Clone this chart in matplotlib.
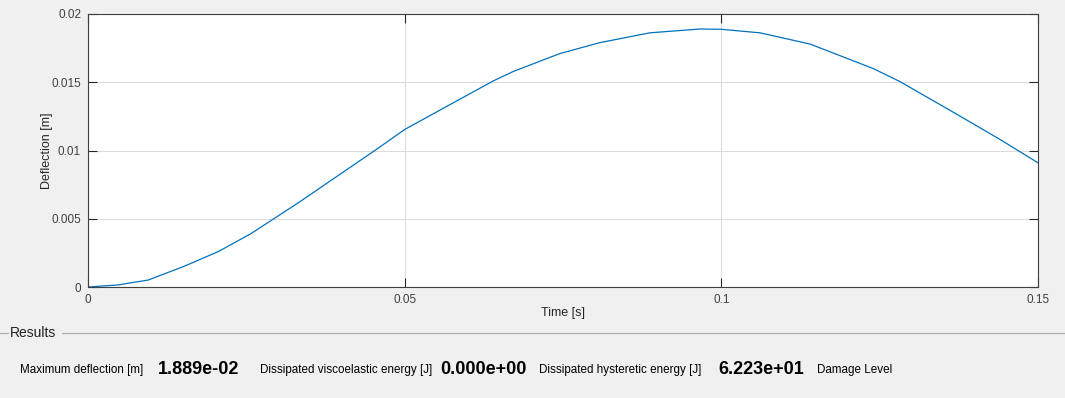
import matplotlib
matplotlib.use("Agg")
import matplotlib.pyplot as plt
from matplotlib.lines import Line2D

plt.rcParams['font.family'] = ['Liberation Sans', 'DejaVu Sans']

# deflection history read from the simulation
time = [0, 0.0047, 0.0095, 0.0153, 0.0206, 0.0258, 0.0333, 0.0374, 0.0456,
        0.0500, 0.0577, 0.0640, 0.0672, 0.0745, 0.0808, 0.0887, 0.0966,
        0.1000, 0.1061, 0.1140, 0.1240, 0.1282, 0.1372, 0.1440, 0.1500]
deflection = [0, 0.00015, 0.00051, 0.00154, 0.00260, 0.00393, 0.00620, 0.00750,
              0.01010, 0.01154, 0.01350, 0.01510, 0.01580, 0.01710, 0.01790,
              0.01862, 0.01890, 0.01888, 0.01862, 0.01780, 0.01600, 0.01505,
              0.01265, 0.01081, 0.00910]

xticks = [0, 0.05, 0.1, 0.15]
xticklabels = ['0', '0.05', '0.1', '0.15']
yticks = [0, 0.005, 0.01, 0.015, 0.02]
yticklabels = ['0', '0.005', '0.01', '0.015', '0.02']

results = [("Maximum deflection [m]", "1.889e-02"),
           ("Dissipated viscoelastic energy [J]", "0.000e+00"),
           ("Dissipated hysteretic energy [J]", "6.223e+01"),
           ("Damage Level", "")]

W, H = 1065, 398
bg = '#f0f0f0'
fig = plt.figure(figsize=(W / 100, H / 100), dpi=100, facecolor=bg)
ax = fig.add_axes([88 / W, 1 - 287 / H, (1038 - 88) / W, (287 - 14) / H])

ax.plot(time, deflection, color='#0072BD', lw=0.9)
ax.set_xlim(0, 0.15)
ax.set_ylim(0, 0.02)
ax.set_xticks(xticks)
ax.set_xticklabels(xticklabels)
ax.set_yticks(yticks)
ax.set_yticklabels(yticklabels)
ax.grid(True, color='#dcdcdc', lw=0.8)
ax.set_axisbelow(True)
ax.tick_params(direction='in', length=6.5, width=0.8, colors='#262626',
               labelsize=8.5, labelcolor='#404040', top=True, right=True, pad=5)
for s in ax.spines.values():
    s.set_color('#404040')
    s.set_linewidth(0.8)
ax.set_xlabel('Time [s]', fontsize=9, color='#262626', labelpad=1)
ax.set_ylabel('Deflection [m]', fontsize=9, color='#262626', labelpad=-1)

# results panel
fig.add_artist(Line2D([0, 8 / W], [1 - 333 / H] * 2, color='#a8a8a8', lw=0.8))
fig.add_artist(Line2D([62 / W, 1], [1 - 333 / H] * 2, color='#a8a8a8', lw=0.8))
fig.text(10 / W, 1 - 333 / H, 'Results', fontsize=10, color='#202020',
         va='center', ha='left')

label_x = [20, 260, 539, 817]
value_x = [158, 440, 718]
ty = 1 - 370 / H
for i, (lab, val) in enumerate(results):
    fig.text(label_x[i] / W, ty, lab, fontsize=8.4, color='#000000',
             va='center', ha='left')
    if val:
        fig.text(value_x[i] / W, ty, val, fontsize=13, fontweight='bold',
                 color='#000000', va='center', ha='left')

fig.savefig('out.png', dpi=100, facecolor=bg)
